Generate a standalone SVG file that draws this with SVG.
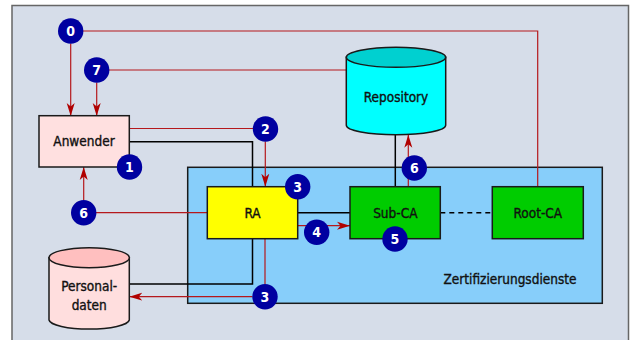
<svg xmlns="http://www.w3.org/2000/svg" width="634" height="340" viewBox="0 0 634 340">
<defs>
<marker id="ah" markerUnits="userSpaceOnUse" markerWidth="14" markerHeight="10" viewBox="0 0 14 10" refX="13" refY="5" orient="auto">
<path d="M0,1 L13,5 L0,9 L3.5,5 Z" fill="#b00000"/>
</marker>
<style>
.red{fill:none;stroke:#b5181c;stroke-width:1.2}
.blk{fill:none;stroke:#000;stroke-width:1.5}
.box{stroke:#1a1a1a;stroke-width:1.5}
.t{font-family:"DejaVu Sans Condensed","DejaVu Sans",sans-serif;font-size:13.5px;fill:#111;stroke:#111;stroke-width:0.35;text-anchor:middle}
.num circle{fill:#0000a0}
.num text{font-family:"DejaVu Sans Condensed","DejaVu Sans",sans-serif;font-size:14px;font-weight:bold;fill:#fff;text-anchor:middle}
</style>
</defs>
<rect x="0" y="0" width="634" height="340" fill="#fff"/>
<rect x="12" y="5.5" width="616.5" height="345" fill="#d6dde9" stroke="#666" stroke-width="1.5"/>
<g id="zertifizierungsdienste">
<rect x="187.7" y="167.3" width="414.6" height="136" fill="#87cefa" class="box"/>
<text class="t" x="510" y="283.5" font-size="13">Zertifizierungsdienste</text>
</g>
<g id="connectors">
<path class="red" d="M70.7,43.5 V116" marker-end="url(#ah)"/>
<path class="red" d="M83,31 H537.7 V186.7"/>
<path class="red" d="M96.7,82.5 V116" marker-end="url(#ah)"/>
<path class="red" d="M109,70 H346.3"/>
<path class="red" d="M129.3,128.5 H253"/>
<path class="red" d="M265.3,141.5 V186.7" marker-end="url(#ah)"/>
<path class="red" d="M83.7,200 V167" marker-end="url(#ah)"/>
<path class="red" d="M96,212.7 H207.3"/>
<path class="red" d="M265,238.7 V284"/>
<path class="red" d="M252.5,296.7 H129.3" marker-end="url(#ah)"/>
<path class="red" d="M297.7,225.7 H350" marker-end="url(#ah)"/>
<path class="red" d="M408.3,186.7 V134.7" marker-end="url(#ah)"/>
<path class="blk" d="M129.3,141.7 H252.5 V284 H129.3"/>
<path class="blk" d="M297.7,212.7 H350"/>
<path class="blk" d="M395.3,134.7 V186.7"/>
<path class="blk" d="M440.3,212.7 H492.3" stroke-dasharray="5,4"/>
</g>
<g id="anwender">
<rect x="39" y="115.7" width="90.3" height="51.3" fill="#ffe0e0" class="box"/>
<text class="t" x="84" y="146">Anwender</text>
</g>
<g id="repository">
<path d="M346.3,57.3 V125.3 A49.7,9.5 0 0 0 445.7,125.3 V57.3 Z" fill="#00ffff" class="box"/>
<ellipse cx="396" cy="57.3" rx="49.7" ry="10" fill="#00d0d0" class="box"/>
<text class="t" x="396" y="102">Repository</text>
</g>
<g id="personaldaten">
<path d="M49,257.7 V320 A40.2,9.5 0 0 0 129.3,320 V257.7 Z" fill="#ffdede" class="box"/>
<ellipse cx="89.2" cy="257.7" rx="40.2" ry="10" fill="#ffbfbf" class="box"/>
<text class="t" x="89.2" y="291">Personal-</text>
<text class="t" x="89.2" y="309.5">daten</text>
</g>
<g id="ra">
<rect x="207.3" y="186.7" width="90.4" height="52" fill="#ffff00" class="box"/>
<text class="t" x="252.5" y="217.5">RA</text>
</g>
<g id="subca">
<rect x="350" y="186.7" width="90.3" height="52" fill="#00cc00" class="box"/>
<text class="t" x="395.3" y="217.5">Sub-CA</text>
</g>
<g id="rootca">
<rect x="492.3" y="186.7" width="91" height="52" fill="#00cc00" class="box"/>
<text class="t" x="537.8" y="217.5">Root-CA</text>
</g>
<g class="num" id="n0"><circle cx="70.7" cy="31" r="12.7"/><text x="70.7" y="36">0</text></g>
<g class="num" id="n7"><circle cx="96.7" cy="70" r="12.7"/><text x="96.7" y="75">7</text></g>
<g class="num" id="n2"><circle cx="265.5" cy="129" r="12.7"/><text x="265.5" y="134">2</text></g>
<g class="num" id="n1"><circle cx="129.5" cy="167" r="12.7"/><text x="129.5" y="172">1</text></g>
<g class="num" id="n3a"><circle cx="297.7" cy="186.7" r="12.7"/><text x="297.7" y="191.7">3</text></g>
<g class="num" id="n6a"><circle cx="83.7" cy="212.7" r="12.7"/><text x="83.7" y="217.7">6</text></g>
<g class="num" id="n4"><circle cx="316.7" cy="232.3" r="12.7"/><text x="316.7" y="237.3">4</text></g>
<g class="num" id="n5"><circle cx="395" cy="239" r="12.7"/><text x="395" y="244">5</text></g>
<g class="num" id="n6b"><circle cx="414.3" cy="168" r="12.7"/><text x="414.3" y="173">6</text></g>
<g class="num" id="n3b"><circle cx="265" cy="296.7" r="12.7"/><text x="265" y="301.7">3</text></g>
</svg>
